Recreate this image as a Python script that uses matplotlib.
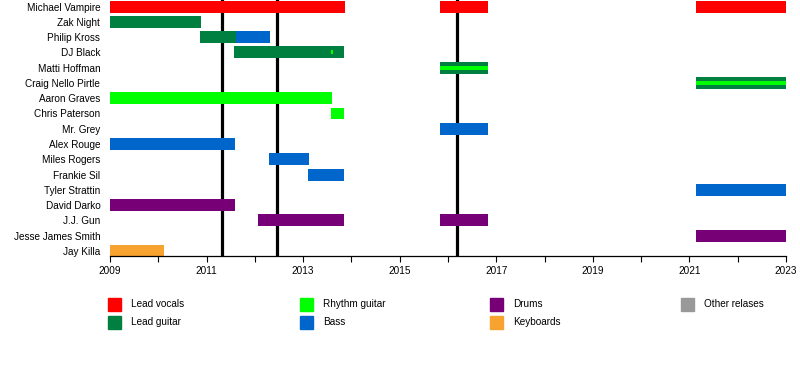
import matplotlib
matplotlib.use('Agg')
import matplotlib.pyplot as plt
from matplotlib.patches import Rectangle

plt.rcParams['font.family'] = ['Liberation Sans', 'DejaVu Sans']
plt.rcParams['font.size'] = 7.2

members = [
    'Michael Vampire', 'Zak Night', 'Philip Kross', 'DJ Black', 'Matti Hoffman',
    'Craig Nello Pirtle', 'Aaron Graves', 'Chris Paterson', 'Mr. Grey', 'Alex Rouge',
    'Miles Rogers', 'Frankie Sil', 'Tyler Strattin', 'David Darko', 'J.J. Gun',
    'Jesse James Smith', 'Jay Killa',
]

roles = ['Lead vocals', 'Lead guitar', 'Rhythm guitar', 'Bass', 'Drums', 'Keyboards', 'Other relases']
role_colors = {
    'Lead vocals': '#ff0000',
    'Lead guitar': '#008040',
    'Rhythm guitar': '#00ff00',
    'Bass': '#0066cc',
    'Drums': '#770077',
    'Keyboards': '#f8a230',
    'Other relases': '#999999',
}

# full bars: (member, role, start, end)
spans = [
    ('Michael Vampire', 'Lead vocals', 2009.0, 2013.87),
    ('Michael Vampire', 'Lead vocals', 2015.83, 2016.83),
    ('Michael Vampire', 'Lead vocals', 2021.13, 2023.0),
    ('Zak Night', 'Lead guitar', 2009.0, 2010.88),
    ('Philip Kross', 'Lead guitar', 2010.86, 2011.61),
    ('Philip Kross', 'Bass', 2011.61, 2012.31),
    ('DJ Black', 'Lead guitar', 2011.57, 2013.85),
    ('Matti Hoffman', 'Lead guitar', 2015.83, 2016.83),
    ('Craig Nello Pirtle', 'Lead guitar', 2021.13, 2023.0),
    ('Aaron Graves', 'Rhythm guitar', 2009.0, 2013.6),
    ('Chris Paterson', 'Rhythm guitar', 2013.58, 2013.85),
    ('Mr. Grey', 'Bass', 2015.83, 2016.83),
    ('Alex Rouge', 'Bass', 2009.0, 2011.59),
    ('Miles Rogers', 'Bass', 2012.29, 2013.12),
    ('Frankie Sil', 'Bass', 2013.1, 2013.85),
    ('Tyler Strattin', 'Bass', 2021.13, 2023.0),
    ('David Darko', 'Drums', 2009.0, 2011.59),
    ('J.J. Gun', 'Drums', 2012.06, 2013.85),
    ('J.J. Gun', 'Drums', 2015.83, 2016.83),
    ('Jesse James Smith', 'Drums', 2021.13, 2023.0),
    ('Jay Killa', 'Keyboards', 2009.0, 2010.12),
]

# thin secondary-role stripes drawn inside the main bar
stripes = [
    ('DJ Black', 'Rhythm guitar', 2013.58, 2013.61),
    ('Matti Hoffman', 'Rhythm guitar', 2015.83, 2016.83),
    ('Craig Nello Pirtle', 'Rhythm guitar', 2021.13, 2023.0),
]

releases = [2011.32, 2012.46, 2016.19]

year_start, year_end = 2009, 2023

fig = plt.figure(figsize=(8, 3.76), dpi=100)
ax = fig.add_axes([0.1375, 0.318, 0.845, 0.682])

row = {name: i for i, name in enumerate(members)}

for x in releases:
    ax.axvline(x, color='black', linewidth=2.3, zorder=1)

for name, role, start, end in spans:
    ax.barh(row[name], end - start, left=start, height=0.78,
            color=role_colors[role], zorder=2)

for name, role, start, end in stripes:
    ax.barh(row[name], end - start, left=start, height=0.26,
            color=role_colors[role], zorder=3)

ax.set_xlim(year_start, year_end)
ax.set_ylim(16.36, -0.43)
ax.set_yticks(range(len(members)))
ax.set_yticklabels(members)
ax.set_xticks(range(year_start, year_end + 1, 2))
ax.set_xticks(range(year_start, year_end + 1), minor=True)
ax.tick_params(axis='y', length=0, pad=7)
ax.tick_params(axis='x', which='both', length=4, width=0.8, pad=3)
for side in ['top', 'left', 'right']:
    ax.spines[side].set_visible(False)
ax.spines['bottom'].set_linewidth(0.9)

# legend laid out as in the reference: 4 columns, 2 rows
col_x = [108, 300, 490, 681]
row_y = [304, 322]
for i, role in enumerate(roles):
    cx = col_x[i // 2]
    cy = row_y[i % 2]
    fig.add_artist(Rectangle((cx / 800, 1 - (cy + 6.5) / 376), 13 / 800, 13 / 376,
                             transform=fig.transFigure, color=role_colors[role]))
    fig.text((cx + 23) / 800, 1 - cy / 376, role, va='center', ha='left', fontsize=7.2)

fig.savefig('out.png', dpi=100)
